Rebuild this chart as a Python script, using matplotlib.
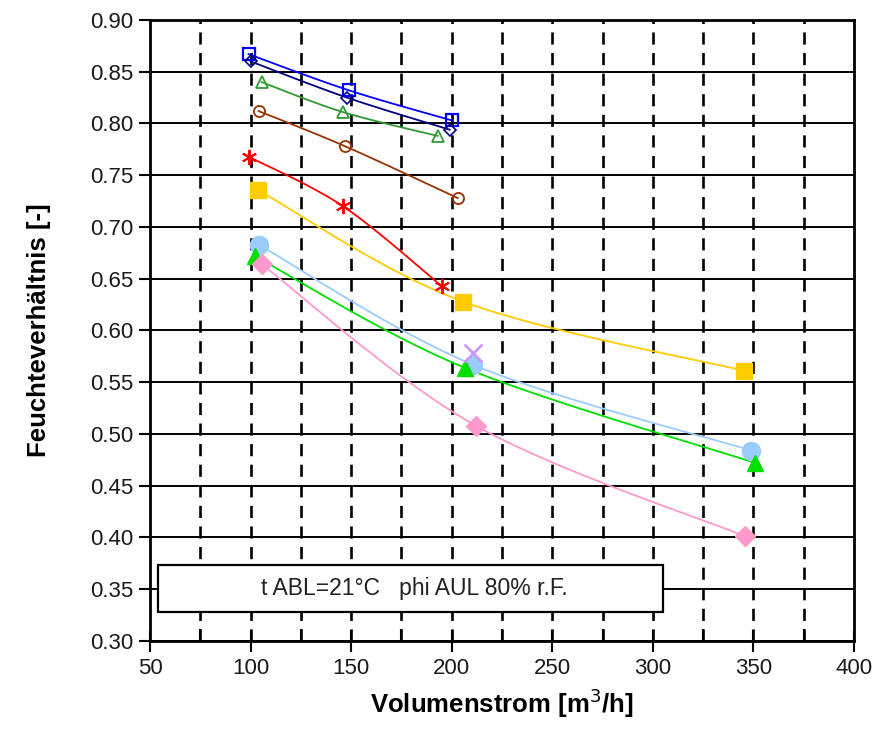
import numpy as np
import matplotlib
matplotlib.use("Agg")
import matplotlib.pyplot as plt
from matplotlib.patches import Rectangle

plt.rcParams['font.family'] = ['Liberation Sans', 'DejaVu Sans']

# ---- data ----
x_blue_sq = [99, 149, 200]
y_blue_sq = [0.867, 0.832, 0.803]

x_navy = [100, 148, 199]
y_navy = [0.860, 0.825, 0.794]

x_green_tri = [105.5, 146, 193]
y_green_tri = [0.840, 0.811, 0.788]

x_brown = [104, 147, 203]
y_brown = [0.812, 0.778, 0.728]

x_red = [99, 146, 195]
y_red = [0.768, 0.720, 0.643]

x_gold = [103.5, 205.5, 345.5]
y_gold = [0.736, 0.628, 0.561]

x_lblue = [104, 210.5, 349]
y_lblue = [0.683, 0.567, 0.484]

x_lgreen = [102, 206.5, 351]
y_lgreen = [0.672, 0.564, 0.472]

x_pink = [105.5, 212, 346]
y_pink = [0.664, 0.508, 0.401]

x_lav = [210.5]
y_lav = [0.578]

legend_text = "t ABL=21°C   phi AUL 80% r.F."
x_ticks = [50, 100, 150, 200, 250, 300, 350, 400]
y_ticks = [0.30, 0.35, 0.40, 0.45, 0.50, 0.55, 0.60, 0.65, 0.70, 0.75, 0.80, 0.85, 0.90]


def smooth(xs, ys, n=40, k=6.0):
    """Excel-like smoothed curve (Bezier with Catmull-Rom tangents) through the points."""
    xs = np.asarray(xs, float)
    ys = np.asarray(ys, float)
    if len(xs) < 3:
        return xs, ys
    P = np.column_stack([xs, ys])
    out = []
    for i in range(len(P) - 1):
        p0 = P[i - 1] if i > 0 else P[i]
        p1 = P[i]
        p2 = P[i + 1]
        p3 = P[i + 2] if i + 2 < len(P) else P[i + 1]
        c1 = p1 + (p2 - p0) / k
        c2 = p2 - (p3 - p1) / k
        t = np.linspace(0, 1, n)[:, None]
        seg = ((1 - t) ** 3) * p1 + 3 * ((1 - t) ** 2) * t * c1 + 3 * (1 - t) * t ** 2 * c2 + t ** 3 * p2
        out.append(seg if i == 0 else seg[1:])
    out = np.vstack(out)
    return out[:, 0], out[:, 1]


fig = plt.figure(figsize=(8.87, 7.34), dpi=100)
ax = fig.add_axes([150 / 887, 1 - 641 / 734, 704 / 887, 621 / 734])

ax.set_xlim(50, 400)
ax.set_ylim(0.30, 0.90)

# grid
for yv in y_ticks:
    ax.axhline(yv, color='black', lw=1.4, zorder=1)
for xv in range(75, 400, 25):
    ax.axvline(xv, color='black', lw=1.9, linestyle=(0, (4.6, 3.2)), zorder=1)

series = [
    (x_blue_sq, y_blue_sq, '#0000FF', 's', 8, 'none', 1.6),
    (x_navy, y_navy, '#000080', 'D', 6, 'none', 1.2),
    (x_green_tri, y_green_tri, '#339933', '^', 9, 'none', 1.3),
    (x_brown, y_brown, '#993300', 'o', 8, 'none', 1.3),
    (x_red, y_red, '#FF0000', (6, 2, 0), 11, '#FF0000', 1.4),
    (x_gold, y_gold, '#FFCC00', 's', 12, '#FFCC00', 1.0),
    (x_lblue, y_lblue, '#99CCFF', 'o', 13, '#99CCFF', 1.0),
    (x_lgreen, y_lgreen, '#00E000', '^', 12, '#00E000', 1.0),
    (x_pink, y_pink, '#FF99CC', 'D', 10, '#FF99CC', 1.0),
]

for xs, ys, col, mk, ms, mfc, mew in series:
    sx, sy = smooth(xs, ys)
    ax.plot(sx, sy, color=col, lw=1.3, zorder=3)
    ax.plot(xs, ys, linestyle='none', marker=mk, markersize=ms,
            markerfacecolor=mfc, markeredgecolor=col, markeredgewidth=mew, zorder=4)

ax.plot(x_lav, y_lav, linestyle='none', marker='x', markersize=13,
        markeredgecolor='#CC99FF', markeredgewidth=2.0, zorder=5)

# ticks
ax.set_xticks(x_ticks)
ax.set_yticks(y_ticks)
ax.set_xticklabels([str(v) for v in x_ticks])
ax.set_yticklabels([f"{v:.2f}" for v in y_ticks])
ax.set_xticks(range(75, 400, 50), minor=True)
ax.tick_params(axis='both', which='major', direction='inout', length=16, width=1.5,
               labelsize=16, labelcolor='#1a1a1a', colors='black', pad=4)
ax.tick_params(axis='x', which='minor', direction='in', length=9, width=1.5)
ax.tick_params(axis='y', which='major', direction='out', length=8)
for s in ax.spines.values():
    s.set_linewidth(2.0)
    s.set_color('black')

ax.set_xlabel("Volumenstrom [m$^3$/h]", fontsize=18.5, fontweight='bold', labelpad=6)
ax.set_ylabel("Feuchteverhältnis [-]", fontsize=18.5, fontweight='bold', labelpad=28)

# legend-like box
rect = Rectangle((0.011, 0.047), 0.718, 0.075, transform=ax.transAxes,
                 facecolor='white', edgecolor='black', lw=1.6, zorder=6)
ax.add_patch(rect)
ax.text(0.375, 0.0845, legend_text, transform=ax.transAxes, ha='center', va='center',
        fontsize=16.5, color='#222222', zorder=7)

fig.savefig("out.png", dpi=100)
